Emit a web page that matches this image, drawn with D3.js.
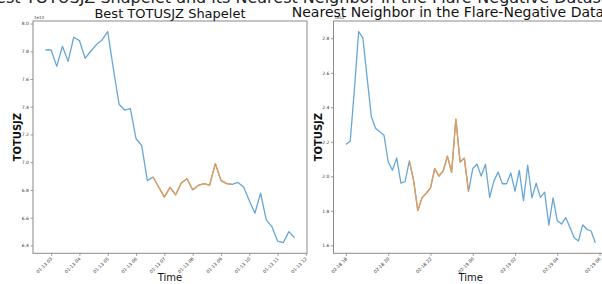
<!DOCTYPE html>
<html><head><meta charset="utf-8">
<script src="https://cdn.jsdelivr.net/npm/d3@7"></script>
<style>body{margin:0;background:#fff;overflow:hidden} svg{display:block}</style>
</head><body><svg id="c" width="602" height="284"></svg>
<script>
// ---- data ----
const suptitle = "Best TOTUSJZ Shapelet and its Nearest Neighbor in the Flare-Negative Dataset";
const leftTitle = "Best TOTUSJZ Shapelet";
const rightTitle = "Nearest Neighbor in the Flare-Negative Dataset";
// TOTUSJZ, units of 1e13, 12-minute cadence
const leftStart = "2012-01-13T02:48";
const leftValues = [7.809,7.809,7.691,7.836,7.727,7.901,7.877,7.749,7.800,7.848,
  7.882,7.942,7.672,7.418,7.376,7.387,7.169,7.120,6.867,6.893,
  6.821,6.748,6.818,6.765,6.850,6.881,6.801,6.832,6.845,6.835,
  6.990,6.869,6.845,6.840,6.854,6.821,6.724,6.632,6.777,6.584,
  6.535,6.431,6.419,6.499,6.455];
const leftShapelet = [19, 33];
// TOTUSJZ, units of 1e12, 12-minute cadence
const rightStart = "2012-02-18T18:00";
const rightValues = [2.185,2.203,2.503,2.839,2.802,2.573,2.347,2.279,2.259,2.238,
  2.083,2.035,2.107,1.960,1.970,2.089,1.976,1.801,1.875,1.902,
  1.933,2.045,2.001,2.031,2.117,2.023,2.332,2.083,2.105,1.912,
  2.045,2.070,2.001,2.070,1.878,1.972,2.025,1.957,1.957,2.019,
  1.914,2.035,1.859,2.064,1.875,1.960,1.878,1.908,1.717,1.875,
  1.742,1.723,1.761,1.703,1.644,1.625,1.719,1.693,1.683,1.615];
const rightMatch = [15, 29];
const leftYTicks = [6.4,6.6,6.8,7.0,7.2,7.4,7.6,7.8,8.0];
const rightYTicks = [1.6,1.8,2.0,2.2,2.4,2.6,2.8];
const leftXTicks = ["2012-01-13T03:00","2012-01-13T04:00","2012-01-13T05:00","2012-01-13T06:00","2012-01-13T07:00",
  "2012-01-13T08:00","2012-01-13T09:00","2012-01-13T10:00","2012-01-13T11:00","2012-01-13T12:00"];
const rightXTicks = ["2012-02-18T18:00","2012-02-18T20:00","2012-02-18T22:00","2012-02-19T00:00",
  "2012-02-19T02:00","2012-02-19T04:00","2012-02-19T06:00"];
const leftExp = "1e13", rightExp = "1e12";
const yLabel = "TOTUSJZ", xLabel = "Time";

// ---- drawing ----
const FONT = "DejaVu Sans, sans-serif";
const BLUE = "#68a6d6", ORANGE = "#ea9a52", SPINE = "#8a8a8a";
const svg = d3.select("#c");
const parse = d3.utcParse("%Y-%m-%dT%H:%M");
const fmt = d3.utcFormat("%m-%d %H");

svg.append("text").attr("x", 301).attr("y", 3).attr("text-anchor", "middle")
  .attr("font-family", FONT).attr("font-size", 16).attr("fill", "#222").text(suptitle);

function panel(cfg) {
  const {x0, x1, y0, y1} = cfg;
  const t0 = parse(cfg.start);
  const pts = cfg.values.map((v, i) => ({t: d3.utcMinute.offset(t0, 12 * i), v, i}));
  const tExt = d3.extent(pts, d => +d.t), tPad = (tExt[1] - tExt[0]) * 0.05;
  const vExt = d3.extent(pts, d => d.v), vPad = (vExt[1] - vExt[0]) * 0.05;
  const xs = d3.scaleUtc().domain([new Date(tExt[0] - tPad), new Date(tExt[1] + tPad)]).range([x0, x1]);
  const ys = d3.scaleLinear().domain([vExt[0] - vPad, vExt[1] + vPad]).range([y1, y0]);
  const g = svg.append("g");
  const line = d3.line().x(d => xs(d.t)).y(d => ys(d.v));
  g.append("path").datum(pts).attr("d", line).attr("fill", "none")
    .attr("stroke", BLUE).attr("stroke-width", 1.3).attr("stroke-linejoin", "round");
  g.append("path").datum(pts.slice(cfg.hl[0], cfg.hl[1] + 1)).attr("d", line).attr("fill", "none")
    .attr("stroke", ORANGE).attr("stroke-width", 1.3).attr("stroke-linejoin", "round");

  // axes
  const ya = g.append("g").attr("transform", `translate(${x0},0)`)
    .call(d3.axisLeft(ys).tickValues(cfg.yTicks).tickFormat(d3.format(".1f")).tickSize(2.5).tickPadding(1.5));
  ya.select(".domain").remove();
  ya.selectAll("text").attr("font-family", FONT).attr("font-size", 4.5).attr("fill", "#333");
  ya.selectAll("line").attr("stroke", "#555").attr("stroke-width", 0.6);
  const xa = g.append("g").attr("transform", `translate(0,${y1})`)
    .call(d3.axisBottom(xs).tickValues(cfg.xTicks.map(parse)).tickFormat(fmt).tickSize(2.5).tickPadding(1.5));
  xa.select(".domain").remove();
  xa.selectAll("line").attr("stroke", "#555").attr("stroke-width", 0.6);
  xa.selectAll("text").attr("font-family", FONT).attr("font-size", 4.5).attr("fill", "#333")
    .attr("text-anchor", "end").attr("dy", null).attr("y", 0)
    .attr("transform", "translate(1,6) rotate(-45)");
  g.append("rect").attr("x", x0).attr("y", y0).attr("width", x1 - x0).attr("height", y1 - y0)
    .attr("fill", "none").attr("stroke", SPINE).attr("stroke-width", 1);

  g.append("text").attr("x", x0 + 1).attr("y", y0 - 2).attr("font-family", FONT).attr("font-size", 4)
    .attr("fill", "#333").text(cfg.exp);
  g.append("text").attr("x", (x0 + x1) / 2 + cfg.titleDx).attr("y", cfg.titleY).attr("text-anchor", "middle")
    .attr("font-family", FONT).attr("font-size", cfg.titleSize).attr("fill", "#111").text(cfg.title);
  g.append("text").attr("x", (x0 + x1) / 2).attr("y", 281).attr("text-anchor", "middle")
    .attr("font-family", FONT).attr("font-size", 10).attr("fill", "#111").text(xLabel);
  g.append("text").attr("transform", `translate(${cfg.ylx},${(y0 + y1) / 2}) rotate(-90)`)
    .attr("text-anchor", "middle").attr("font-family", FONT).attr("font-size", 10)
    .attr("font-weight", "bold").attr("fill", "#111").text(yLabel);
}

panel({x0: 33, x1: 307, y0: 21, y1: 253.3, start: leftStart, values: leftValues, hl: leftShapelet,
  yTicks: leftYTicks, xTicks: leftXTicks, exp: leftExp, title: leftTitle, titleSize: 13, titleY: 18, titleDx: 0, ylx: 21});
panel({x0: 333.5, x1: 607.8, y0: 21, y1: 253.3, start: rightStart, values: rightValues, hl: rightMatch,
  yTicks: rightYTicks, xTicks: rightXTicks, exp: rightExp, title: rightTitle, titleSize: 14, titleY: 16.5, titleDx: -12, ylx: 322});
</script></body></html>
